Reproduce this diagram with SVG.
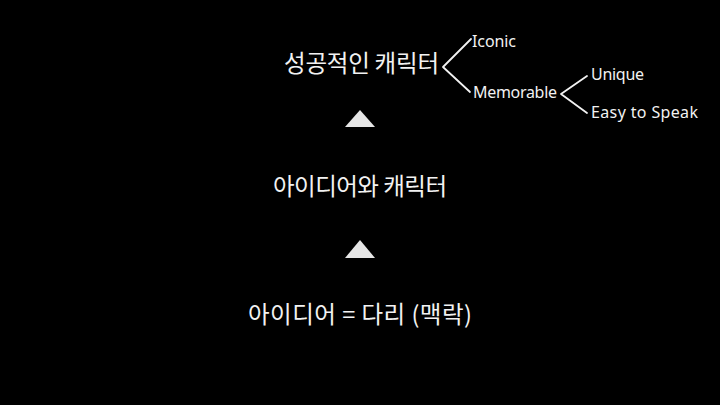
<svg xmlns="http://www.w3.org/2000/svg" width="720" height="405" viewBox="0 0 720 405">
<style>
.ko{font-family:"Noto Sans CJK KR","Noto Sans",sans-serif;fill:#f2f2f2;font-size:23.5px;font-weight:400}
.en{font-family:"Noto Sans","Noto Sans CJK KR",sans-serif;fill:#f2f2f2;font-size:16px}
.br{fill:none;stroke:#f2f2f2;stroke-width:1.8;stroke-linecap:round;stroke-linejoin:round}
.tri{fill:#e6e6e6}
</style>
<rect width="720" height="405" fill="#000"/>
<g id="successful-character"><text class="ko" x="284" y="72" textLength="155">성공적인 캐릭터</text></g>
<g id="iconic"><text class="en" x="472" y="47" textLength="44">Iconic</text></g>
<g id="memorable"><text class="en" x="473" y="98" textLength="84">Memorable</text></g>
<g id="unique"><text class="en" x="591" y="80" textLength="53">Unique</text></g>
<g id="easy"><text class="en" x="591" y="118" textLength="107">Easy to Speak</text></g>
<g id="idea-character"><text class="ko" x="273" y="195" textLength="174">아이디어와 캐릭터</text></g>
<g id="idea-bridge"><text class="ko" x="248" y="323" textLength="224">아이디어 = 다리 (맥락)</text></g>
<g id="connectors">
<polyline class="br" points="471,39 443,67 470,92"/>
<polyline class="br" points="587,76 561,94 587,113"/>
<polygon class="tri" points="360,110 375,127 345,127"/>
<polygon class="tri" points="360,240 375,258 345,258"/>
</g>
</svg>
